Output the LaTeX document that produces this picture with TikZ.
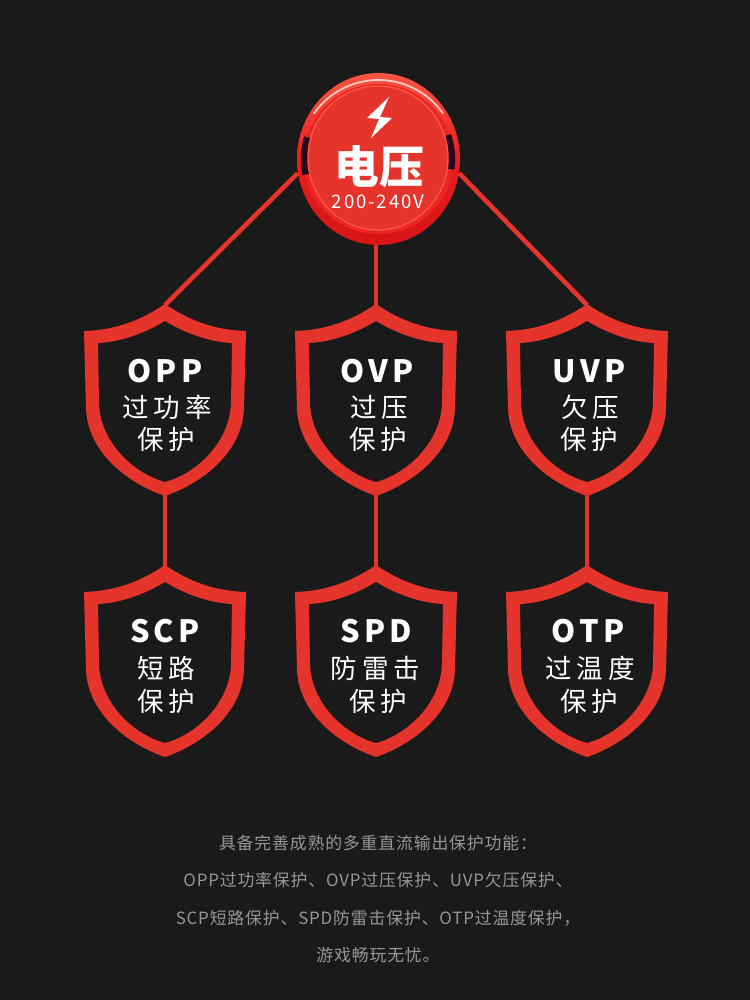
\documentclass[tikz,border=0pt]{standalone}
\usepackage{fontspec}
\usetikzlibrary{arrows.meta, calc, shapes.geometric}
\setmainfont{Noto Sans CJK SC}
\newfontfamily\cjkwide[LetterSpace=18]{Noto Sans CJK SC}
\newfontfamily\latwide[LetterSpace=14]{Noto Sans CJK SC}
\newfontfamily\rangewide[LetterSpace=10]{Noto Sans CJK SC}
\newfontfamily\notewide[LetterSpace=5]{Noto Sans CJK SC}
\definecolor{pagebg}{RGB}{26,26,26}
\definecolor{shieldred}{RGB}{229,52,43}
\definecolor{ringlight}{RGB}{250,85,65}
\definecolor{ringmid}{RGB}{232,30,30}
\definecolor{ringdark}{RGB}{215,20,22}
\definecolor{slitdark}{RGB}{40,8,30}
\definecolor{notegray}{RGB}{150,150,150}
\tikzset{
  abbr/.style={text=white,font=\latwide\bfseries\fontsize{17.5}{20}\selectfont},
  cname/.style={text=white,font=\cjkwide\fontsize{15.1}{17}\selectfont},
  note/.style={text=notegray,font=\notewide\fontsize{9.6}{11}\selectfont},
  wire/.style={shieldred,line width=2.6pt},
  shield/.pic={
    \fill[shieldred,even odd rule]
      (0,0) .. controls (-25,17) and (-50,26) .. (-81,27)
      -- (-79,105) .. controls (-77,150) and (-35,180) .. (0,192)
      .. controls (35,180) and (77,150) .. (79,105)
      -- (81,27) .. controls (50,26) and (25,17) .. (0,0) -- cycle
      (0,17) .. controls (-22,30) and (-45,38) .. (-67,39)
      -- (-66,100) .. controls (-64,140) and (-30,170) .. (0,178)
      .. controls (30,170) and (64,140) .. (66,100)
      -- (67,39) .. controls (45,38) and (22,30) .. (0,17) -- cycle;
    \coordinate (-top) at (0,1);
    \coordinate (-bot) at (0,191);
  }
}
\begin{document}
\begin{tikzpicture}[x=0.02cm,y=-0.02cm]
  \fill[pagebg] (0,0) rectangle (750,1000);
  \node[ellipse,minimum width=3.26cm,minimum height=3.44cm,inner sep=0pt,top color=ringlight,bottom color=ringdark,middle color=ringmid] (volt) at (378.5,159) {};
  \draw[white!70!ringlight,line width=1pt] (volt.center) ++(215:79) arc (215:325:79);
  \fill[ringmid!85!ringlight] (volt.center) circle (75);
  \draw[slitdark,line width=4.2pt] (volt.center) ++(168:74) arc (168:197:74);
  \draw[slitdark,line width=4.2pt] (volt.center) ++(-19:73) arc (-19:8:73);
  \draw[ringlight,line width=0.8pt,fill=shieldred] (378,158) ellipse (70 and 72);
  \fill[white] (389,97) -- (367,118) -- (379,119) -- (371,138) -- (392,118) -- (380,117) -- cycle;
  \node[text=white,font=\bfseries\fontsize{25.5}{28}\selectfont] (voltname) at (379,167) {电压};
  \node[text=white,font=\rangewide\fontsize{10.6}{13}\selectfont] (voltrange) at (378,202) {200-240V};

  \pic (oppbox) at (165,304) {shield};
  \pic (ovpbox) at (376,304) {shield};
  \pic (uvpbox) at (587,304) {shield};
  \pic (scpbox) at (165,565) {shield};
  \pic (spdbox) at (376,565) {shield};
  \pic (otpbox) at (587,565) {shield};

  \node[abbr] (opp) at (165,371) {OPP};
  \node[cname] (oppa) at (167,407) {过功率};
  \node[cname] (oppb) at (166.5,439) {保护};
  \node[abbr] (ovp) at (377,371) {OVP};
  \node[cname] (ovpa) at (379,407) {过压};
  \node[cname] (ovpb) at (378.5,439) {保护};
  \node[abbr] (uvp) at (589,371) {UVP};
  \node[cname] (uvpa) at (590,407) {欠压};
  \node[cname] (uvpb) at (589.5,439) {保护};
  \node[abbr] (scp) at (165,631) {SCP};
  \node[cname] (scpa) at (166.5,668) {短路};
  \node[cname] (scpb) at (166.5,701) {保护};
  \node[abbr] (spd) at (376,631) {SPD};
  \node[cname] (spda) at (375.5,668) {防雷击};
  \node[cname] (spdb) at (378.5,701) {保护};
  \node[abbr] (otp) at (588,631) {OTP};
  \node[cname] (otpa) at (590,668) {过温度};
  \node[cname] (otpb) at (589.5,701) {保护};

  \draw[wire] (volt.190) -- (oppbox-top);
  \draw[wire] (ovpbox-top |- volt.south) -- (ovpbox-top);
  \draw[wire] (volt.-10) -- (uvpbox-top);
  \draw[wire] (oppbox-bot) -- (scpbox-top);
  \draw[wire] (ovpbox-bot) -- (spdbox-top);
  \draw[wire] (uvpbox-bot) -- (otpbox-top);

  \node[note] (notea) at (378,843) {具备完善成熟的多重直流输出保护功能：};
  \node[note] (noteb) at (378,880) {OPP过功率保护、OVP过压保护、UVP欠压保护、};
  \node[note] (notec) at (378,918) {SCP短路保护、SPD防雷击保护、OTP过温度保护，};
  \node[note] (noted) at (378,955) {游戏畅玩无忧。};
\end{tikzpicture}
\end{document}
